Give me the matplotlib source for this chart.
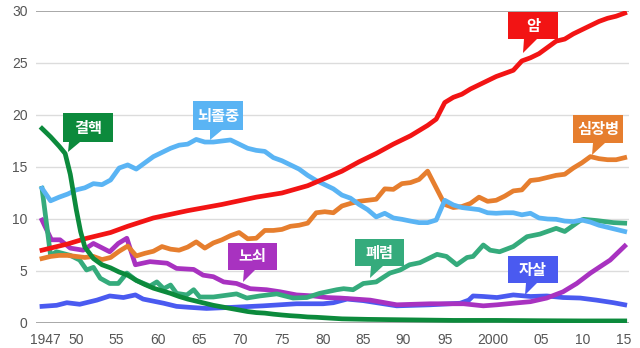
import matplotlib
matplotlib.use("Agg")
import matplotlib.pyplot as plt
from matplotlib.patches import Polygon
from matplotlib.transforms import ScaledTranslation

plt.rcParams['font.family'] = ['Noto Sans CJK KR', 'DejaVu Sans']

# ---------------- data (deaths share, %) ----------------
cancer_years = [1947, 1950, 1952, 1955, 1957, 1960, 1964, 1968, 1972, 1975, 1978, 1980, 1982, 1984, 1986,
                1988, 1990, 1991, 1992, 1993, 1994, 1995, 1996, 1997, 1998, 1999, 2000, 2001, 2002, 2003,
                2004, 2005, 2006, 2007, 2008, 2009, 2010, 2011, 2012, 2013, 2014, 2015]
cancer = [7.0, 7.6, 8.1, 8.7, 9.3, 10.1, 10.8, 11.4, 12.1, 12.5, 13.2, 13.9, 14.6, 15.5, 16.3,
          17.2, 18.0, 18.5, 19.0, 19.6, 21.2, 21.7, 22.0, 22.5, 22.9, 23.3, 23.7, 24.0, 24.3, 25.2,
          25.5, 25.9, 26.5, 27.1, 27.3, 27.8, 28.2, 28.6, 29.0, 29.3, 29.5, 29.8]

heart_years = [1947, 1948, 1949, 1950, 1951, 1952, 1953, 1954, 1955, 1956, 1957, 1958, 1959, 1960,
               1961, 1962, 1963, 1964, 1965, 1966, 1967, 1968, 1969, 1970, 1971, 1972, 1973, 1974,
               1975, 1976, 1977, 1978, 1979, 1980, 1981, 1982, 1983, 1984, 1985, 1986, 1987, 1988,
               1989, 1990, 1991, 1992, 1994, 1995, 1996, 1997, 1998, 1999, 2000, 2001, 2002, 2003,
               2004, 2005, 2006, 2007, 2008, 2009, 2010, 2011, 2012, 2013, 2014, 2015]
heart = [6.2, 6.4, 6.5, 6.5, 6.4, 6.3, 6.4, 6.1, 6.3, 6.9, 7.4, 6.45, 6.7, 6.9,
         7.35, 7.1, 7.0, 7.3, 7.8, 7.2, 7.7, 8.0, 8.4, 8.7, 8.1, 8.15, 8.9, 8.9,
         9.0, 9.3, 9.4, 9.6, 10.6, 10.7, 10.6, 11.25, 11.5, 11.7, 11.8, 11.9, 12.9, 12.85,
         13.4, 13.5, 13.8, 14.6, 11.4, 11.1, 11.2, 11.5, 12.1, 11.7, 11.8, 12.2, 12.7, 12.8,
         13.7, 13.8, 14.0, 14.2, 14.3, 14.9, 15.4, 16.0, 15.8, 15.7, 15.7, 15.9]

stroke_years = list(range(1947, 2016))
stroke = [12.95, 11.75, 12.1, 12.4, 12.8, 13.0, 13.4, 13.3, 13.75, 14.9, 15.2, 14.8, 15.4, 16.0,
          16.4, 16.8, 17.1, 17.2, 17.65, 17.4, 17.4, 17.5, 17.6, 17.2, 16.8, 16.6, 16.5, 15.9,
          15.6, 15.2, 14.8, 14.2, 13.7, 13.3, 12.9, 12.3, 12.0, 11.4, 10.9, 10.2, 10.55, 10.1,
          9.97, 9.8, 9.65, 9.65, 9.9, 11.8, 11.35, 11.1, 11.0, 10.9, 10.6, 10.55, 10.6, 10.6,
          10.4, 10.55, 10.1, 10.0, 9.97, 9.8, 9.75, 9.9, 9.7, 9.4, 9.2, 9.0, 8.8]

tb_years = [1947, 1948, 1949, 1949.7, 1950.3, 1951, 1951.5, 1952, 1953, 1954, 1955, 1956, 1957, 1958,
            1959, 1960, 1961, 1962, 1963, 1964, 1965, 1966, 1967, 1968, 1969, 1970, 1971, 1972, 1973,
            1974, 1975, 1976, 1977, 1978, 1979, 1980, 1982, 1985, 1990, 1995, 2000, 2005, 2010, 2015]
tb = [18.7, 17.9, 17.0, 16.3, 14.3, 10.9, 8.8, 7.3, 6.2, 5.6, 5.3, 4.9, 4.6, 4.1,
      3.7, 3.35, 3.1, 2.85, 2.55, 2.3, 2.1, 1.9, 1.7, 1.55, 1.4, 1.25, 1.1, 1.0, 0.95,
      0.85, 0.77, 0.7, 0.65, 0.58, 0.55, 0.5, 0.4, 0.35, 0.3, 0.25, 0.25, 0.22, 0.2, 0.2]

pneu_years = [1947, 1948, 1948.7, 1950.3, 1951.4, 1952.2, 1953, 1953.8, 1954.9, 1955.9, 1956.9, 1958,
              1959.6, 1960.4, 1961.2, 1962, 1962.7, 1963.9, 1964.7, 1965.4, 1967, 1969.7, 1970.9,
              1972.4, 1974.4, 1976.3, 1977.9, 1979.4, 1981.4, 1982.2, 1983.3, 1984.5, 1986, 1987.6,
              1988.8, 1989.9, 1991.1, 1993.1, 1994.2, 1995.4, 1996.6, 1997.3, 1998.5, 1999.3, 2000.4,
              2002, 2003.6, 2005.1, 2007, 2008, 2009.8, 2010.2, 2011.7, 2013.7, 2015]
pneu = [12.95, 6.5, 6.85, 6.5, 6.05, 5.1, 5.35, 4.3, 3.8, 3.8, 4.8, 4.1,
        3.55, 3.95, 3.3, 3.65, 2.85, 2.7, 3.2, 2.5, 2.5, 2.8, 2.4,
        2.6, 2.8, 2.4, 2.45, 2.85, 3.2, 3.3, 3.2, 3.8, 3.95, 4.8,
        5.1, 5.6, 5.8, 6.6, 6.4, 5.6, 6.3, 6.4, 7.5, 7.0, 6.85,
        7.35, 8.3, 8.55, 9.1, 8.8, 9.85, 9.97, 9.85, 9.65, 9.6]

senil_years = [1947, 1948.1, 1949.1, 1950.3, 1951.8, 1953, 1954.9, 1955.9, 1956.9, 1957.9, 1959.6,
               1961.6, 1962.7, 1964.7, 1965.8, 1967, 1968.2, 1969.7, 1971.3, 1973.2, 1974.8, 1976.7,
               1978.7, 1980.2, 1981.8, 1985.3, 1988.4, 1992.3, 1996.2, 1998.5, 2000.1, 2002, 2004,
               2005.9, 2007.8, 2009.4, 2011, 2012.1, 2013.3, 2015]
senil = [9.9, 8.0, 8.0, 7.2, 7.0, 7.65, 6.85, 7.65, 8.15, 5.6, 5.9,
         5.75, 5.25, 5.15, 4.6, 4.45, 3.95, 3.8, 3.3, 3.2, 3.0, 2.7,
         2.6, 2.45, 2.4, 2.2, 1.75, 1.85, 1.85, 1.65, 1.75, 1.9, 2.05,
         2.4, 3.0, 3.8, 4.8, 5.4, 6.05, 7.4]

suic_years = [1947, 1948.7, 1949.9, 1951.4, 1953.4, 1954.9, 1956.5, 1957.9, 1958.8, 1961.2, 1962.7,
              1964.3, 1966.2, 1969, 1972.8, 1976.7, 1979.8, 1981, 1982.6, 1984.5, 1988.4, 1992.3,
              1995.8, 1996.8, 1997.3, 1998.5, 2000.1, 2002, 2004, 2005.9, 2007.8, 2009.8, 2011.7,
              2013.7, 2015]
suic = [1.6, 1.7, 1.95, 1.8, 2.2, 2.6, 2.45, 2.7, 2.3, 1.9, 1.6,
        1.5, 1.4, 1.5, 1.65, 1.85, 1.85, 1.95, 2.3, 2.15, 1.65, 1.75,
        1.9, 2.2, 2.6, 2.55, 2.45, 2.7, 2.55, 2.6, 2.45, 2.4, 2.2,
        1.95, 1.75]

xtick_years = [1947, 1950, 1955, 1960, 1965, 1970, 1975, 1980, 1985, 1990, 1995, 2000, 2005, 2010, 2015]
xtick_labels = ['1947', '50', '55', '60', '65', '70', '75', '80', '85', '90', '95', '2000', '05', '10', '15']
yticks = [0, 5, 10, 15, 20, 25, 30]

# ---------------- styles ----------------
C_CANCER = '#f21414'
C_HEART = '#e67e2e'
C_STROKE = '#5ab4f4'
C_TB = '#0c8a3c'
C_PNEU = '#35ab7c'
C_SENIL = '#a832c0'
C_SUIC = '#4a5af0'

W, H = 640, 348
fig = plt.figure(figsize=(W / 100, H / 100), dpi=100)
ax = fig.add_axes([36 / W, (H - 323) / H, (629 - 36) / W, 312 / H])
ax.set_xlim(1946.3, 2015.5)
ax.set_ylim(0, 30)

for v in yticks:
    col = '#9a9a9a' if v in (0, 30) else '#dcdcdc'
    ax.axhline(v, color=col, lw=1.2 if v in (0, 30) else 1.0, zorder=1)

lw = 3.4
ax.plot(suic_years, suic, color=C_SUIC, lw=lw, zorder=2, solid_joinstyle='round')
ax.plot(senil_years, senil, color=C_SENIL, lw=lw, zorder=3, solid_joinstyle='round')
ax.plot(pneu_years, pneu, color=C_PNEU, lw=lw, zorder=4, solid_joinstyle='round')
ax.plot(heart_years, heart, color=C_HEART, lw=lw, zorder=5, solid_joinstyle='round')
ax.plot(stroke_years, stroke, color=C_STROKE, lw=lw, zorder=5, solid_joinstyle='round')
ax.plot(cancer_years, cancer, color=C_CANCER, lw=lw, zorder=6, solid_joinstyle='round')
ax.plot(tb_years, tb, color=C_TB, lw=lw, zorder=7, solid_joinstyle='round')

for s in ax.spines.values():
    s.set_visible(False)
ax.set_yticks(yticks)
ax.set_xticks(xtick_years)
ax.set_xticklabels(xtick_labels)
ax.tick_params(length=0, colors='#555555', labelsize=10)
ax.tick_params(axis='y', pad=6)
ax.tick_params(axis='x', pad=7)
for lab in ax.get_xticklabels() + ax.get_yticklabels():
    lab.set_family(['Liberation Sans', 'DejaVu Sans'])

# small horizontal nudges (pixels) so tick labels sit where the original places them
label_nudge_px = [3, 8, 6, 5, 3, 1, 0, -2, -5, -7, -8, -3, 2, 1, -1]
for lab, dx in zip(ax.get_xticklabels(), label_nudge_px):
    lab.set_transform(lab.get_transform() + ScaledTranslation(dx / 100, 0, fig.dpi_scale_trans))

# ---------------- callouts (pixel layout) ----------------
callouts = [
    # label, color, left, top, right, bottom, base_left, base_right, tip_x, tip_y
    ('결핵', C_TB, 63, 113, 113, 142, 69, 80, 68, 152),
    ('뇌졸중', C_STROKE, 193, 101, 243, 130, 210, 222, 210, 140),
    ('암', C_CANCER, 508, 12, 558, 39, 524, 537, 523, 53),
    ('심장병', C_HEART, 573, 115, 623, 143, 593, 605, 592, 155),
    ('노쇠', C_SENIL, 228, 243, 277, 270, 244, 255, 243, 282),
    ('폐렴', C_PNEU, 355, 239, 404, 266, 371, 383, 370, 278),
    ('자살', C_SUIC, 508, 256, 558, 283, 526, 537, 525, 295),
]


def P(x, y):
    return (x / W, 1 - y / H)


for lab, col, l, t, r, b, bl, br, tx, ty in callouts:
    verts = [P(l, t), P(r, t), P(r, b), P(br, b), P(tx, ty), P(bl, b), P(l, b)]
    fig.patches.append(Polygon(verts, closed=True, transform=fig.transFigure,
                               facecolor=col, edgecolor='none', zorder=10))
    cx, cy = P((l + r) / 2, (t + b) / 2)
    fig.text(cx, cy, lab, color='white', fontsize=11, fontweight='bold',
             ha='center', va='center', zorder=11)

fig.savefig('out.png', dpi=100)
